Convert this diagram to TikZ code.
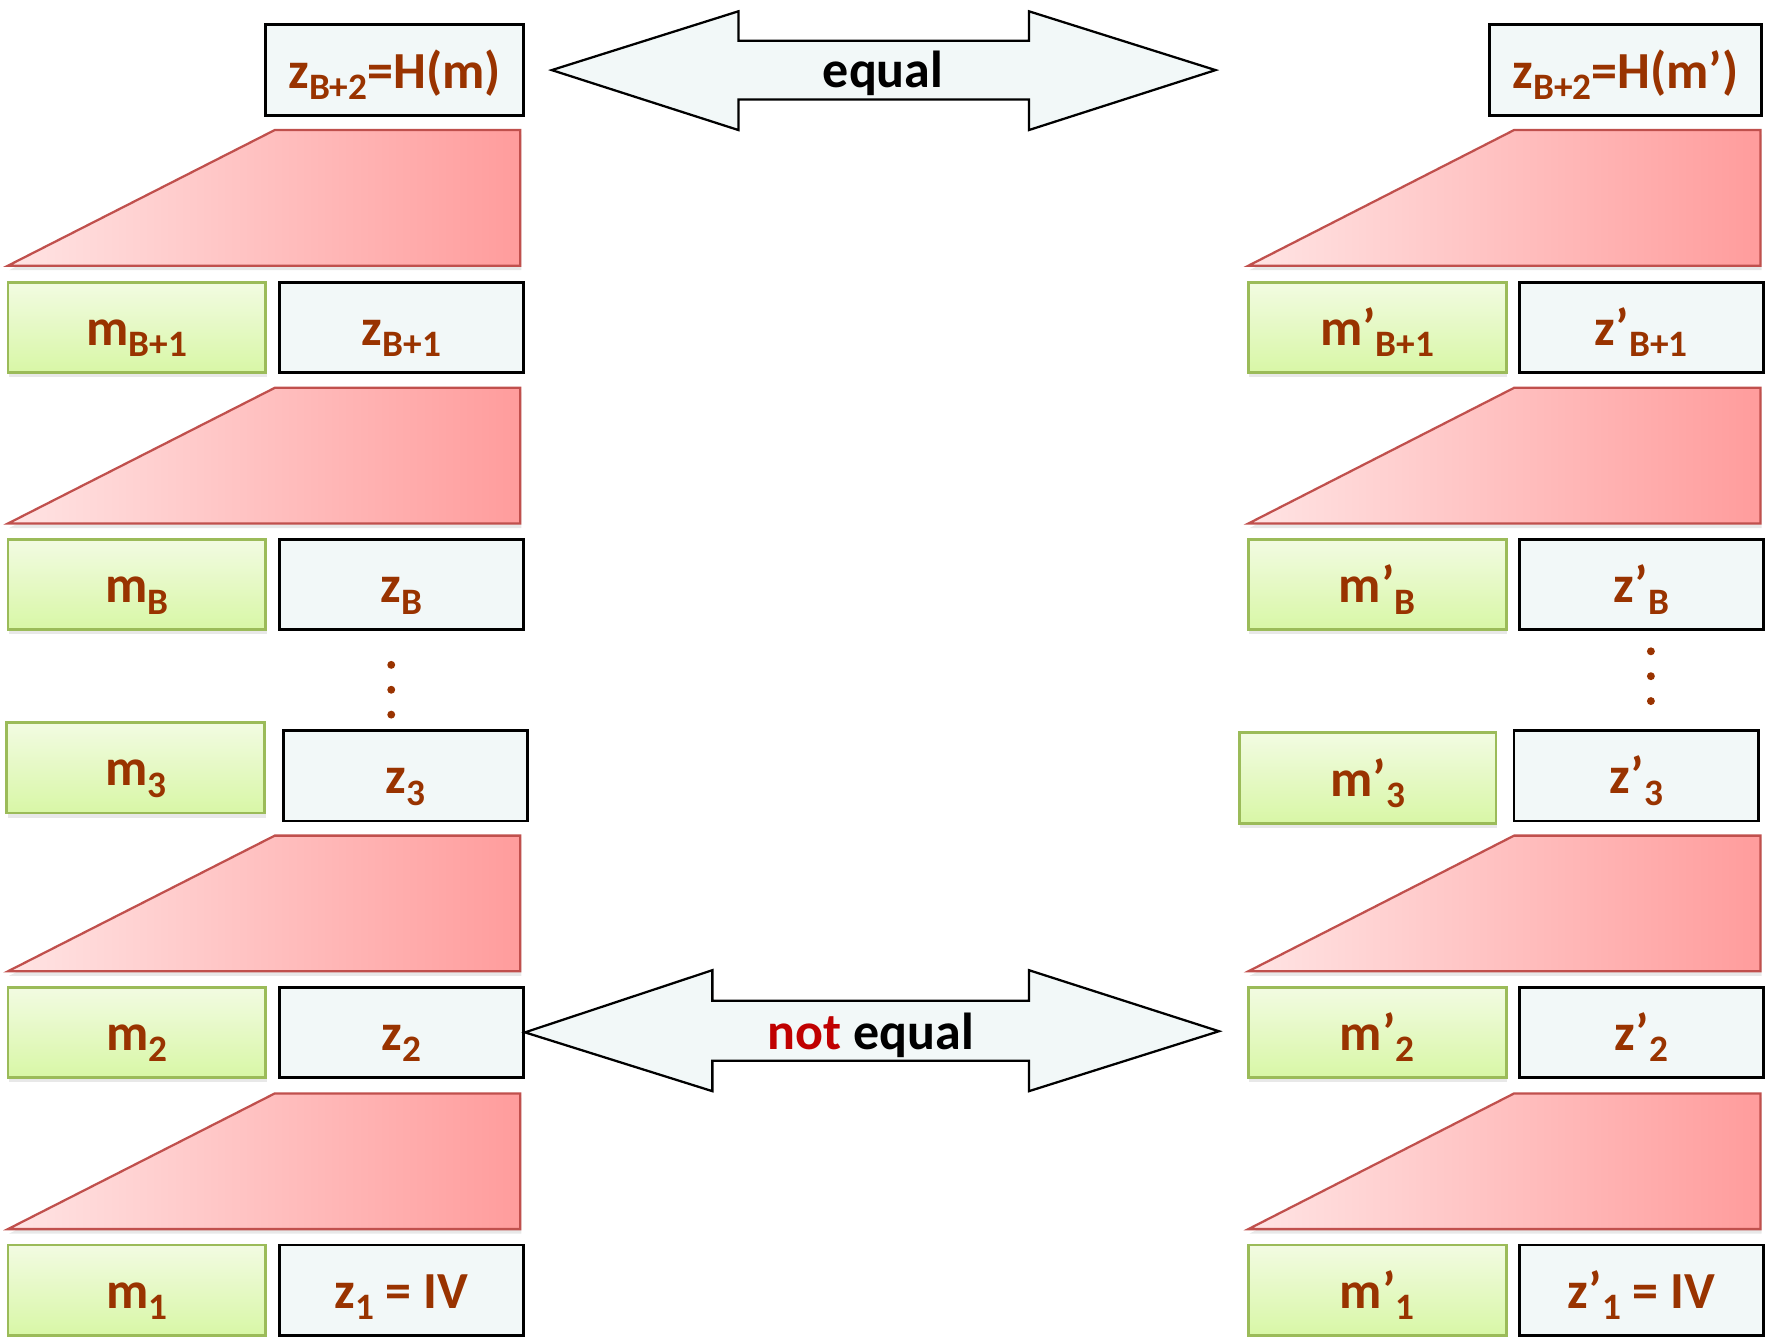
\documentclass[tikz,border=0pt]{standalone}
\usepackage{fontspec}
\setmainfont{Carlito}
\usetikzlibrary{shadows}

\definecolor{txtbrown}{HTML}{993300}
\definecolor{notred}{HTML}{C00000}
\definecolor{mgreen}{HTML}{9BBB59}
\definecolor{mtop}{HTML}{F2FBE2}
\definecolor{mbot}{HTML}{D8F7A6}
\definecolor{zfill}{HTML}{F2F8F8}
\definecolor{hred}{HTML}{C0504D}
\definecolor{hleft}{HTML}{FFE4E4}
\definecolor{hright}{HTML}{FF9C9C}

% lowered subscript, as in the slide
\newcommand{\lo}[1]{\raisebox{-0.22em}{\fontsize{33}{33}\selectfont #1}}

\tikzset{
    blockfont/.style={font=\fontsize{46}{50}\selectfont\bfseries},
    mbox/.style={draw=mgreen, line width=2.5pt, top color=mtop, bottom color=mbot,
        minimum width=228pt, minimum height=80pt, inner sep=0pt, blockfont, text=txtbrown,
        text height=32pt, text depth=0pt,
        drop shadow={shadow xshift=1pt, shadow yshift=-4pt, opacity=0.18}},
    zbox/.style={draw=black, line width=2.5pt, fill=zfill,
        minimum width=216pt, minimum height=80pt, inner sep=0pt, blockfont, text=txtbrown,
        text height=32pt, text depth=0pt},
    hashbox/.style={draw=hred, line width=2pt, left color=hleft, right color=hright,
        drop shadow={shadow xshift=1pt, shadow yshift=-4pt, opacity=0.18}},
    bigarrow/.style={draw=black, line width=2pt, fill=zfill},
}

\begin{document}
\begin{tikzpicture}[x=1pt, y=-1pt]
    \useasboundingbox (0,0) rectangle (1568,1182);

    % left chain
    \node[zbox, minimum width=228pt] (zB2) at (349,62) {z\lo{B+2}=H(m)};
    \draw[hashbox] (7,235) -- (243,115) -- (460,115) -- (460,235) -- cycle;
    \node[mbox] (mB1) at (121,289.5) {m\lo{B+1}};
    \node[zbox] (zB1) at (355,289.5) {z\lo{B+1}};
    \draw[hashbox] (7,463) -- (243,343) -- (460,343) -- (460,463) -- cycle;
    \node[mbox] (mB) at (121,517) {m\lo{B}};
    \node[zbox] (zB) at (355,517) {z\lo{B}};
    \fill[txtbrown] (346,588) circle (3.5) (346,610) circle (3.5) (346,632) circle (3.5);
    \node[mbox] (m3) at (120,679) {m\lo{3}};
    \node[zbox] (z3) at (358.5,686) {z\lo{3}};
    \draw[hashbox] (7,859) -- (243,739) -- (460,739) -- (460,859) -- cycle;
    \node[mbox] (m2) at (121,913) {m\lo{2}};
    \node[zbox] (z2) at (355,913) {z\lo{2}};
    \draw[hashbox] (7,1087) -- (243,967) -- (460,967) -- (460,1087) -- cycle;
    \node[mbox] (m1) at (121,1141) {m\lo{1}};
    \node[zbox] (z1) at (355,1141) {z\lo{1} = IV};

    % right chain
    \node[zbox, minimum width=241pt] (zpB2) at (1437.5,62) {z\lo{B+2}=H(m’)};
    \draw[hashbox] (1104,235) -- (1339,115) -- (1557,115) -- (1557,235) -- cycle;
    \node[mbox] (mpB1) at (1218,289.5) {m’\lo{B+1}};
    \node[zbox] (zpB1) at (1451.5,289.5) {z’\lo{B+1}};
    \draw[hashbox] (1104,463) -- (1339,343) -- (1557,343) -- (1557,463) -- cycle;
    \node[mbox] (mpB) at (1218,517) {m’\lo{B}};
    \node[zbox] (zpB) at (1451.5,517) {z’\lo{B}};
    \fill[txtbrown] (1460,576) circle (3.5) (1460,598) circle (3.5) (1460,620) circle (3.5);
    \node[mbox, minimum width=227pt] (mp3) at (1209.5,688) {m’\lo{3}};
    \node[zbox] (zp3) at (1447,686) {z’\lo{3}};
    \draw[hashbox] (1104,859) -- (1339,739) -- (1557,739) -- (1557,859) -- cycle;
    \node[mbox] (mp2) at (1218,913) {m’\lo{2}};
    \node[zbox] (zp2) at (1451.5,913) {z’\lo{2}};
    \draw[hashbox] (1104,1087) -- (1339,967) -- (1557,967) -- (1557,1087) -- cycle;
    \node[mbox] (mp1) at (1218,1141) {m’\lo{1}};
    \node[zbox] (zp1) at (1451.5,1141) {z’\lo{1} = IV};

    % equal
    \draw[bigarrow] (488,62) -- (653,10) -- (653,36) -- (910,36) -- (910,10) -- (1075,62)
        -- (910,115) -- (910,88) -- (653,88) -- (653,115) -- cycle;
    \node[blockfont] (eq) at (781,65) {equal};

    % not equal
    \draw[bigarrow] (z2.east) -- (630,858) -- (630,885) -- (910,885) -- (910,858) -- (1078,912)
        -- (910,965) -- (910,938) -- (630,938) -- (630,965) -- cycle;
    \node[blockfont] (neq) at (770,916) {\textcolor{notred}{not} equal};
\end{tikzpicture}
\end{document}
